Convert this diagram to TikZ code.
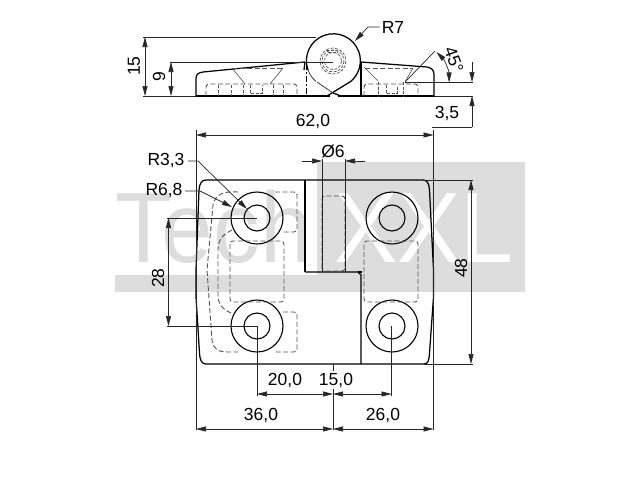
\documentclass[tikz,border=0pt]{standalone}
\usepackage{fontspec}
\setmainfont{Liberation Sans}
\usetikzlibrary{arrows.meta}
\definecolor{wm}{HTML}{DDDDDD}
\definecolor{dsh}{HTML}{555555}
\tikzset{
  thick line/.style={line width=1.25pt,black,line join=round},
  thin line/.style={line width=0.7pt,black!85},
  hidden/.style={line width=0.9pt,dsh,dash pattern=on 5pt off 2.5pt,rounded corners=3pt},
  hiddenfine/.style={line width=0.7pt,dsh,dash pattern=on 3pt off 1.5pt},
  dim/.style={line width=0.7pt,black!85,{Triangle[length=10pt,width=5pt]}-{Triangle[length=10pt,width=5pt]}},
  tip/.style={line width=0.7pt,black!85,-{Triangle[length=10pt,width=5pt]}},
  lab/.style={font=\fontsize{17.5}{19}\selectfont,inner sep=0pt,text=black},
  wmtext/.style={font=\fontsize{100}{100}\selectfont,inner sep=0pt,anchor=base west}
}
\begin{document}
\begin{tikzpicture}[x=1pt,y=-1pt]
\useasboundingbox (0,0) rectangle (640,480);
\fill[white] (0,0) rectangle (640,480);
% watermark
\fill[wm] (317,162) rectangle (525,292);
\fill[wm] (115,275) rectangle (525,292);
\node[wmtext,text=wm] (wmA) at (115,262) {\scalebox{0.93}[1]{Tech}};
\node[wmtext,text=white] (wmB) at (334,262) {\scalebox{0.95}[1]{XXL}};
% ---- side view
\draw[thick line] (196,96) -- (330,96) (338,96) -- (434,96);
\draw[thick line] (196,96) -- (196,79) .. controls (196,74) and (198,73) .. (203,72) -- (305,62);
\draw[thick line] (361,62) -- (427,67) .. controls (432,68) and (434,70) .. (434,75) -- (434,96);
\draw[thick line] (361,62) -- (361,96);
\draw[thick line] (305,62) -- (304,70);
\draw[thick line] (308,70) arc[start angle=160,end angle=410,radius=27] -- (327,96);
\draw[line width=0.8pt,black!75] (308,70) arc[start angle=160,end angle=130,radius=27];
\draw[line width=0.8pt,black!75] (317,82) -- (333,93);
\draw[thick line] (333,93) -- (341,96);
\foreach \r in {13,11,8.5}
  \draw[hiddenfine] (333,61) circle[radius=\r];
\draw[hiddenfine] (326,50) -- (340,50) (328,52.5) -- (338,52.5);
\draw[line width=0.7pt,dash pattern=on 6pt off 2pt on 2pt off 2pt] (306.5,64) -- (306.5,96);
% hidden left wing
\draw[hidden] (206,96) -- (206,84) -- (297,84) -- (297,96);
\draw[hiddenfine] (218,85) -- (218,96) (231,85) -- (231,96) (243,85) -- (243,96) (250,85) -- (250,93) -- (262,93) -- (262,85) (273,85) -- (273,96) (283,85) -- (283,96);
\draw[hidden] (232,68) -- (283,68);
\draw[line width=0.6pt,black!70] (232,68) -- (245,84) (283,68) -- (270,84);
% hidden right wing
\draw[hidden] (364,96) -- (364,84) -- (418,84) -- (418,96);
\draw[hiddenfine] (378,82) -- (378,96) (386,85) -- (386,93) -- (397,93) -- (397,85) (403,82) -- (403,96);
\draw[hidden] (365,68) -- (413,68);
\draw[line width=0.6pt,black!70] (364,67) -- (378,81) (413,68) -- (405,82);
% side view dimensions
\draw[thin line] (143,37) -- (316,37);
\draw[thin line] (170,62) -- (333,62);
\draw[thin line] (143,96) -- (196,96);
\draw[dim] (145,37) -- (145,96);
\draw[dim] (171,62) -- (171,96);
\node[lab,rotate=90] (d15) at (134,66) {15};
\node[lab,rotate=90] (d9) at (159,77) {9};
\coordinate (angc) at (405,82);
\coordinate (angt) at (435,51);
\draw[thin line] (angc) -- (angt);
\draw[thin line] (angc) -- (473,82);
\draw[thin line] (434,96) -- (473,96);
\draw[dim] (436.5,52) arc[start angle=-45,end angle=0,radius=43];
\node[lab,rotate=-70] (d45) at (454,60) {45°};
\draw[thin line,-{Triangle[length=10pt,width=5pt]}] (472,62) -- (472,82);
\draw[thin line,-{Triangle[length=10pt,width=5pt]}] (472,127) -- (472,96);
\draw[thin line] (432,127) -- (472,127);
\node[lab] (d35) at (447,114) {3,5};
\node[lab] (r7) at (393,27) {R7};
\draw[tip] (r7.west) ++(-2,0) -- (368,27) -- (355,41);
% ---- plan view
\draw[thick line] (206,180) -- (423,180) .. controls (427,180) and (429,183) .. (429.5,190) -- (433.5,270) -- (433.5,297) -- (429.5,353) .. controls (429,361) and (428,364) .. (424,364) -- (206,364) .. controls (202,364) and (200,361) .. (199.5,353) -- (196,297) -- (196,270) -- (199,190) .. controls (199.5,183) and (202,180) .. (206,180) -- cycle;
\draw[line width=1.8pt,black] (305,180) -- (305,272);
\draw[thick line] (305,272) -- (358,272) -- (361,275) -- (361,364);
\draw[thick line] (358,272) -- (362,272);
\foreach \cx/\cy/\nm in {257/218/a,392/218/b,257/326/c,392/326/d}{
  \draw[thick line,line width=1.1pt] (\cx,\cy) circle[radius=26];
  \draw[thick line,line width=1.1pt] (\cx,\cy) circle[radius=13];
}
% hidden plan
\draw[hidden] (322,271) -- (322,196) -- (345,196) -- (345,271) -- cycle;
\draw[hidden] (230,241) rectangle (284,302);
\draw[hidden] (364,272) -- (364,241) -- (418,241) -- (418,302) -- (364,302) -- (364,272);
\draw[hidden,rounded corners=0pt] (238,192) .. controls (222,191) and (215,195) .. (213,205) -- (207,270) -- (212,340) .. controls (213,349) and (218,352) .. (228,352) -- (238,352);
\draw[hidden,rounded corners=0pt] (232,230) .. controls (222,235) and (218,240) .. (218,250) -- (218,295) .. controls (218,304) and (222,309) .. (231,313);
\draw[hidden] (275,192) -- (297,192) -- (297,232) -- (283,232);
\draw[hidden] (283,312) -- (297,312) -- (297,352) -- (274,352);
% plan dimensions
\draw[thin line] (196,130) -- (196,430);
\draw[thin line] (433.5,130) -- (433.5,430);
\draw[thin line] (333,364) -- (333,371) (333,389) -- (333,430);
\draw[thin line] (257,326) -- (257,396);
\draw[thin line] (391.5,326) -- (391.5,396);
\draw[dim] (196,135) -- (433.5,135);
\node[lab] (d62) at (313,122) {62,0};
\draw[thin line] (322,159) -- (322,272);
\draw[thin line] (345,159) -- (345,272);
\draw[thin line,-{Triangle[length=10pt,width=5pt]}] (302,161) -- (322,161);
\draw[thin line,-{Triangle[length=10pt,width=5pt]}] (365,161) -- (345,161);
\node[lab] (dphi) at (333,151) {Ø6};
\draw[thin line] (423,180) -- (473,180);
\draw[thin line] (424,364) -- (473,364);
\draw[dim] (471,180) -- (471,364);
\node[lab,rotate=90] (d48) at (461,268) {48};
\draw[thin line] (167,218) -- (257,218);
\draw[thin line] (167,326) -- (257,326);
\draw[dim] (168.5,218) -- (168.5,326);
\node[lab,rotate=90] (d28) at (158,278) {28};
\node[lab] (r33) at (166,161) {R3,3};
\draw[tip] (188,161) -- (198,161) -- (247,209);
\node[lab] (r68) at (164,191) {R6,8};
\draw[tip] (185,191) -- (200,191) -- (232,207);
\draw[dim] (257,394) -- (333,394);
\draw[dim] (333,394) -- (391.5,394);
\draw[dim] (196,429) -- (333,429);
\draw[dim] (333,429) -- (433.5,429);
\node[lab] (d20) at (285,381) {20,0};
\node[lab] (d150) at (336,381) {15,0};
\node[lab] (d36) at (261,416) {36,0};
\node[lab] (d26) at (383,416) {26,0};
\end{tikzpicture}
\end{document}
